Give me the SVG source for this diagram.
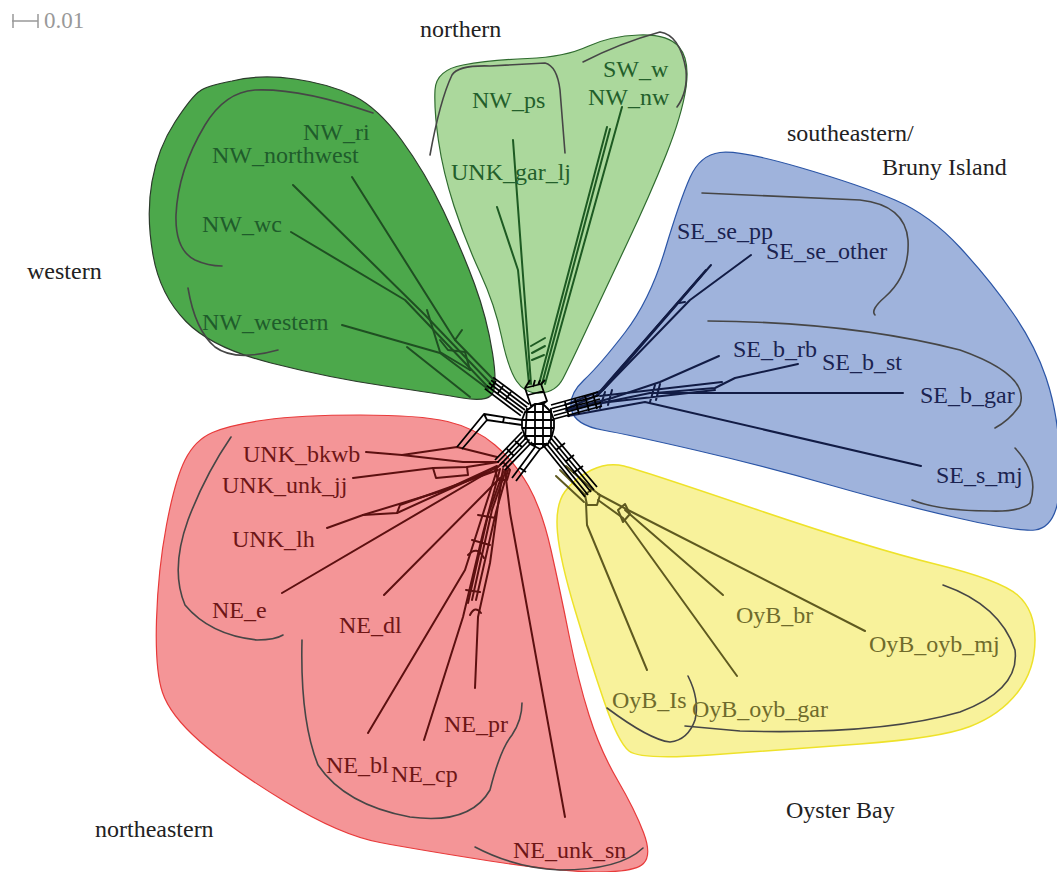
<svg xmlns="http://www.w3.org/2000/svg" width="1057" height="872" viewBox="0 0 1057 872">
<style>
text{font-family:"Liberation Serif","Times New Roman",serif;font-size:24px}
.grp{fill:#222}
.br{fill:none;stroke:#464646;stroke-width:1.6;stroke-linecap:round}
.ln{fill:none;stroke-width:2;stroke-linejoin:round;stroke-linecap:round}
.hub{fill:none;stroke:#000;stroke-width:1.8;stroke-linejoin:round}
.w{stroke:#1f4f22}.n{stroke:#1d5a22}.s{stroke:#121c45}.y{stroke:#5f5a20}.r{stroke:#5c1010}
.tw{fill:#1f5c2b}.tn{fill:#235f2b}.ts{fill:#1b2350}.ty{fill:#6f6b2c}.tr{fill:#6e1616}
</style>
<rect width="1057" height="872" fill="#fff"/>
<g id="scale">
<path d="M12,21H38M13,14V28M38,14V28" stroke="#999" stroke-width="1.5" fill="none"/>
<text x="44" y="28" fill="#999" style="font-size:23px">0.01</text>
</g>
<g id="western">
<path d="M232,81 Q260,74 295,79 Q330,84 354,96 Q378,108 401.5,140 Q425,172 443.5,211 Q462,250 474.5,284 Q487,318 492.5,353 Q498,388 491.5,395 Q485,402 462.5,398 Q440,394 385,386 Q330,378 271,363 Q212,348 186,321.5 Q160,295 153,255 Q146,215 152,181.5 Q158,148 175,122 Q192,96 200,91 Q206,86 232,81 Z" fill="#4ca84b" stroke="#2b3b2b" stroke-width="1.2"/>
<g class="ln w">
<path d="M352,177 L455,340 L494,380"/>
<path d="M293,185 L425,315 L490,383"/>
<path d="M291,232 L405,300 L487,386"/>
<path d="M342,325 L440,353 L488,389"/>
<path d="M407,347 L470,397"/>
<path d="M427,310 L440,352 L470,370"/>
<path d="M440,340 L448,350 L465,352 L470,370"/>
<path d="M455,340 L462,330"/>
</g>
<path class="br" d="M373,113 Q300,88 255,90 Q225,92 205,125 Q178,170 176,215 Q175,250 195,260 Q208,266 222,266"/>
<path class="br" d="M188,288 Q195,330 215,347 Q235,362 278,350"/>
<text class="tw" x="303" y="140">NW_ri</text>
<text class="tw" x="212" y="163">NW_northwest</text>
<text class="tw" x="202" y="232">NW_wc</text>
<text class="tw" x="202" y="330">NW_western</text>
</g>
<g id="northern">
<path d="M463,65 Q490,60 527.5,58.5 Q565,57 587.5,46.5 Q610,36 639,35 Q668,34 679,47 Q690,60 686,87.5 Q682,115 666,155 Q650,195 627.5,242.5 Q605,290 587.5,327.5 Q570,365 563,378.5 Q556,392 540.5,393 Q525,394 516.5,381 Q508,368 501.5,336.5 Q495,305 480,272.5 Q465,240 454,206 Q443,172 438.5,141 Q434,110 435,90 Q436,70 463,65 Z" fill="#abd89c" stroke="#2f6b2f" stroke-width="1.2"/>
<g class="ln n">
<path d="M513,140 L531,384"/>
<path d="M497,207 L518,270 L529,384"/>
<path d="M622,107 L545,384"/>
<path d="M607,127 L539,384"/>
<path d="M610,129 L542,384"/>
<path d="M531,346 L545,338 M532,353 L545,346 M532,360 L544,355"/>
</g>
<path class="br" d="M430,155 Q440,100 452,75 Q458,65 490,66 L545,63 Q557,66 560,90 L565,153"/>
<path class="br" d="M583,62 Q620,43 660,32 Q680,35 686,70 Q688,92 677,107"/>
<text class="tn" x="472" y="108">NW_ps</text>
<text class="tn" x="603" y="77">SW_w</text>
<text class="tn" x="588" y="105">NW_nw</text>
<text class="tn" x="451" y="180">UNK_gar_lj</text>
</g>
<g id="southeastern">
<path d="M720,152.5 Q740,150 800,167.5 Q860,185 895,200 Q930,215 960,247.5 Q990,280 1012.5,312.5 Q1035,345 1046,377.5 Q1057,410 1059.5,450 Q1062,490 1056,509 Q1050,528 1035,530 Q1020,532 960,518.5 Q900,505 830,485 Q760,465 695,450 Q630,435 602.5,430 Q575,425 571.5,410 Q568,395 584,380 Q600,365 625,332.5 Q650,300 665,250 Q680,200 690,177.5 Q700,155 720,152.5 Z" fill="#9fb3dc" stroke="#2b55a6" stroke-width="1.2"/>
<g class="ln s">
<path d="M711,265 L603,390 L565,405"/>
<path d="M751,255 L690,300 L598,395 L568,408"/>
<path d="M706,270 L600,392"/>
<path d="M702,275 L596,396"/>
<path d="M685,302 L679,303"/>
<path d="M719,356 L660,382 L612,398 L566,410"/>
<path d="M798,364 L735,378 L715,388 L655,393"/>
<path d="M903,393 L650,393 L568,410"/>
<path d="M921,466 L645,402 L568,416"/>
<path d="M722,382 L600,396 M715,390 L600,403 M655,385 L650,402 M660,384 L656,400 M612,390 L608,405 M605,392 L600,408"/>
</g>
<path class="br" d="M702,193 L860,200 Q905,205 908,240 Q910,275 885,297 Q870,310 875,315"/>
<path class="br" d="M708,321 Q850,322 960,350 Q1030,375 1020,405 Q1010,420 995,428"/>
<path class="br" d="M1015,448 Q1040,475 1030,503 Q1020,512 990,511 Q940,511 912,500"/>
<text class="ts" x="677" y="239">SE_se_pp</text>
<text class="ts" x="766" y="259">SE_se_other</text>
<text class="ts" x="733" y="357">SE_b_rb</text>
<text class="ts" x="822" y="370">SE_b_st</text>
<text class="ts" x="920" y="403">SE_b_gar</text>
<text class="ts" x="936" y="483">SE_s_mj</text>
</g>
<g id="oysterbay">
<path d="M624,466 Q640,470 755,509 Q870,548 935,564 Q1000,580 1017.5,595 Q1035,610 1035,640 Q1035,670 1017.5,692.5 Q1000,715 970,726.5 Q940,738 860,744 Q780,750 710,755 Q640,760 629,751 Q618,742 604,701 Q590,660 575,610 Q560,560 557.5,532.5 Q555,505 565,491.5 Q575,478 591.5,470 Q608,462 624,466 Z" fill="#f8f29b" stroke="#eee22a" stroke-width="1.5"/>
<g class="ln y">
<path d="M647,670 L587,525 L586,503"/>
<path d="M737,676 L623,518 L598,500"/>
<path d="M723,595 L625,510"/>
<path d="M865,631 L628,510 L598,494"/>
<path d="M585,495 L592,489 L600,495 L597,505 L587,505 Z"/>
<path d="M618,510 L625,504 L630,514 L623,522 Z"/>
<path d="M560,470 L585,495 M556,476 L584,502 M566,466 L592,489"/>
</g>
<path class="br" d="M943,585 Q1000,605 1015,650 Q1020,690 960,712 Q880,735 740,731 L685,726"/>
<path class="br" d="M688,676 Q700,700 695,720 Q688,740 670,742 Q650,740 607,708"/>
<text class="ty" x="736" y="623">OyB_br</text>
<text class="ty" x="869" y="652">OyB_oyb_mj</text>
<text class="ty" x="612" y="708">OyB_Is</text>
<text class="ty" x="692" y="717">OyB_oyb_gar</text>
</g>
<g id="northeastern">
<path d="M265,420 Q300,415 360,415 Q420,415 447.5,421.5 Q475,428 495,445 Q515,462 528.5,486 Q542,510 551,550 Q560,590 569,635 Q578,680 589,715 Q600,750 617.5,780 Q635,810 643.5,832.5 Q652,855 643.5,863.5 Q635,872 597.5,872 Q560,872 490,861 Q420,850 380,842.5 Q340,835 285,801.5 Q230,768 200,741.5 Q170,715 162.5,692.5 Q155,670 156.5,620 Q158,570 166.5,525 Q175,480 185,460 Q195,440 212.5,432.5 Q230,425 265,420 Z" fill="#f49597" stroke="#e83a3a" stroke-width="1.2"/>
<g class="ln r">
<path d="M366,452 L402,455 L457,447 L497,457"/>
<path d="M402,455 L463,462 L498,462"/>
<path d="M353,478 L433,468 L467,467 L498,462"/>
<path d="M433,468 L436,478 L468,475 L467,467"/>
<path d="M327,528 L363,515 L397,513 L487,472"/>
<path d="M363,515 L445,490 L497,466"/>
<path d="M397,513 L400,505 L498,470"/>
<path d="M282,593 L497,467"/>
<path d="M384,595 L500,478"/>
<path d="M368,733 L465,570 L497,470"/>
<path d="M424,740 L463,617 L483,533 L500,469"/>
<path d="M475,688 L478,617 L490,563 L503,469"/>
<path d="M565,817 L510,513 L505,470"/>
<path d="M470,615 Q475,605 481,613 M468,555 Q477,545 484,558"/>
<path d="M472,600 L492,510 L506,470 M476,600 L496,512 L508,470 M468,603 L488,515 L503,472"/>
<path d="M466,590 L480,592 M472,540 L490,545 M478,515 L496,518"/>
<path d="M495,470 L503,462 L510,470 L507,480 L498,480 Z"/>
</g>
<path class="br" d="M231,437 Q205,475 188,520 Q170,570 185,605 Q210,635 257,640 Q275,640 283,635"/>
<path class="br" d="M302,640 Q300,720 318,765 Q345,805 410,817 Q470,825 490,790 Q500,750 512,735 Q522,720 522,703"/>
<path class="br" d="M475,847 Q515,868 560,870 Q620,870 643,848"/>
<text class="tr" x="243" y="462">UNK_bkwb</text>
<text class="tr" x="222" y="493">UNK_unk_jj</text>
<text class="tr" x="232" y="547">UNK_lh</text>
<text class="tr" x="212" y="618">NE_e</text>
<text class="tr" x="339" y="633">NE_dl</text>
<text class="tr" x="444" y="732">NE_pr</text>
<text class="tr" x="326" y="773">NE_bl</text>
<text class="tr" x="391" y="782">NE_cp</text>
<text class="tr" x="513" y="858">NE_unk_sn</text>
</g>
<g id="connectors" class="hub">
<path d="M525,412 L551,412 M522,420 L554,420 M522,428 L554,428 M525,436 L552,436 M530,444 L548,444"/>
<path d="M527,408 L525,440 M535,404 L535,447 M543,404 L543,447 M551,408 L551,440"/>
<path d="M525,412 L522,420 L522,428 L525,436 L530,444 L540,449 L548,444 L552,436 L554,428 L554,420 L551,412 L543,404 L535,404 Z"/>
<path d="M520.8,415.6 L484.8,388.6 M522.9,412.8 L486.9,385.8 M525,410 L489,383 M527.1,407.2 L491.1,380.2 M529.2,404.4 L493.2,377.4 M511,392 L506,399 M503,386 L498,393 M496,381 L491,388"/>
<path d="M522,420 L484,414 L457,447 M522,425 L487,420 L462,449 M484,414 L487,420 M504,417 L503,423"/>
<path d="M525,388 L541,384 L547,401 L531,406 Z M530,380 L525,388 M545,380 L541,384 M531,406 L535,404 M547,401 L543,404 M535,380 L533,387 M540,380 L538,385 M528,395 L544,391"/>
<path d="M551,405 L598,392 M552,408.5 L599,395.5 M553,412 L600,399 M554,415.5 L601,402.5 M554,419 L602,406 M565,402 L569,417 M575,399 L579,414 M585,396 L589,411 M593,394 L597,409"/>
<path d="M543,445 L585,497 M546,443 L588,495 M548.5,440.5 L591,492 M551,438 L594,490 M554,436 L597,487 M556,450 L565,443 M565,462 L574,455 M573,473 L583,466"/>
<path d="M522,432 L495,460 M524.5,434.5 L497.5,462.5 M527,437 L500,465 M529.5,439.5 L502.5,467.5 M532,442 L505,470 M515,441 L522,447 M507,449 L514,456"/>
<path d="M535,447 L512,478 M540,449 L516,481 M520,468 L526,472"/>
</g>
<g id="group-labels" class="grp">
<text x="420" y="37">northern</text>
<text x="787" y="141">southeastern/</text>
<text x="882" y="175">Bruny Island</text>
<text x="27" y="279">western</text>
<text x="95" y="837">northeastern</text>
<text x="786" y="818">Oyster Bay</text>
</g>
</svg>
